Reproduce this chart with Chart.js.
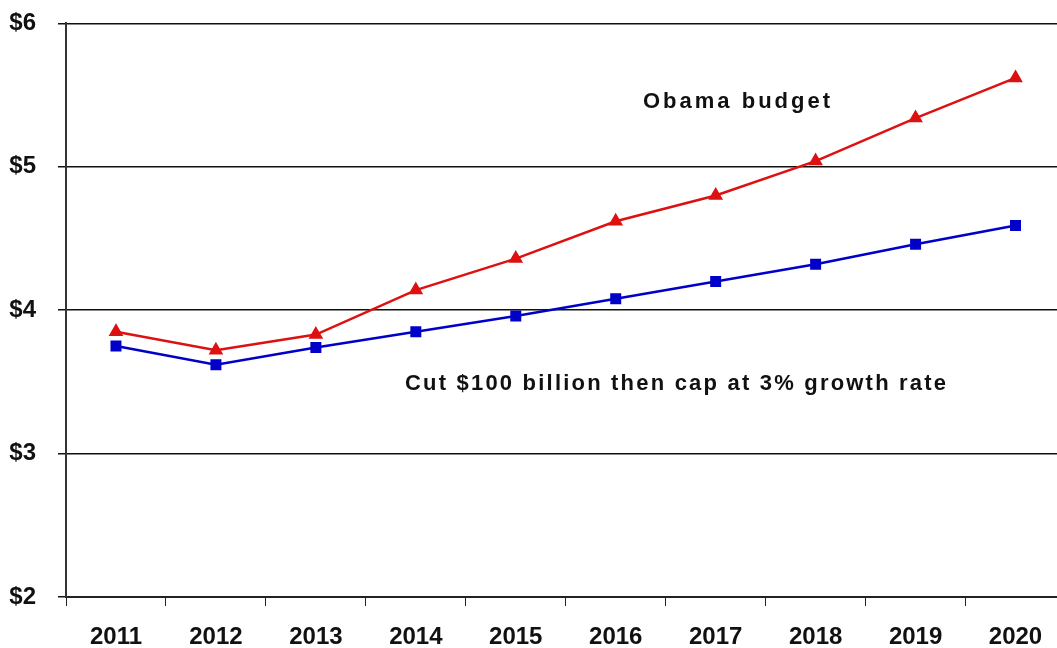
<!DOCTYPE html>
<html lang="en">
<head>
    <meta charset="UTF-8">
    <title>Budget chart</title>
    <script src="https://cdn.jsdelivr.net/npm/chart.js"></script>
    <style>
        html, body {
            margin: 0;
            padding: 0;
            background: #fff;
            overflow: hidden;
        }
        .chart-container {
            width: 1074px;
            height: 661px;
            margin-top: -13px;
        }
    </style>
</head>
<body>
    <div class="chart-container">
        <canvas id="myChart"></canvas>
    </div>

    <script>
        const years = ['2011', '2012', '2013', '2014', '2015', '2016', '2017', '2018', '2019', '2020'];
        const obamaBudget = [3.85, 3.72, 3.83, 4.14, 4.36, 4.62, 4.80, 5.04, 5.34, 5.62];
        const cutAndCap = [3.75, 3.62, 3.74, 3.85, 3.96, 4.08, 4.20, 4.32, 4.46, 4.59];
        const yTicks = [2, 3, 4, 5, 6];

        const tickFont = "'Liberation Sans', Arial, sans-serif";

        // free text labels drawn inside the plot (canvas sits 13px above the page top)
        const labelPlugin = {
            id: 'labels',
            afterDraw(chart) {
                const ctx = chart.ctx;
                ctx.save();
                ctx.fillStyle = '#111';
                ctx.font = "bold 22px 'Liberation Sans', Arial, sans-serif";
                ctx.textBaseline = 'alphabetic';
                ctx.letterSpacing = '3px';
                ctx.fillText('Obama budget', 643, 121);
                ctx.letterSpacing = '2.2px';
                ctx.fillText('Cut $100 billion then cap at 3% growth rate', 405, 403);
                ctx.restore();
            }
        };

        let myChart;

        function initChart() {
            const ctx = document.getElementById('myChart').getContext('2d');
            myChart = new Chart(ctx, {
                type: 'line',
                data: {
                    labels: years,
                    datasets: [{
                        label: 'Obama budget',
                        data: obamaBudget,
                        borderColor: '#dd1111',
                        backgroundColor: '#dd1111',
                        borderWidth: 2.5,
                        pointStyle: 'triangle',
                        pointRadius: 6,
                        pointHoverRadius: 6,
                        tension: 0
                    }, {
                        label: 'Cut $100 billion then cap at 3% growth rate',
                        data: cutAndCap,
                        borderColor: '#0000c8',
                        backgroundColor: '#0000c8',
                        borderWidth: 2.5,
                        pointStyle: 'rect',
                        pointRadius: 6,
                        pointHoverRadius: 6,
                        tension: 0
                    }]
                },
                options: {
                    responsive: true,
                    maintainAspectRatio: false,
                    animation: false,
                    layout: {
                        padding: { top: 10, right: 0, left: 0, bottom: 0 }
                    },
                    scales: {
                        x: {
                            offset: true,
                            afterFit(scale) { scale.height = 51; },
                            grid: {
                                offset: true,
                                drawOnChartArea: false,
                                color: '#222',
                                tickLength: 9
                            },
                            border: { color: '#222', width: 2 },
                            ticks: {
                                color: '#111',
                                padding: 17,
                                maxRotation: 0,
                                font: { family: tickFont, size: 24, weight: 'bold' }
                            }
                        },
                        y: {
                            min: 2,
                            max: 6,
                            afterFit(scale) { scale.width = 66; },
                            afterBuildTicks(scale) {
                                scale.ticks = yTicks.map(v => ({ value: v }));
                            },
                            grid: {
                                color: '#111',
                                lineWidth: 1.5,
                                tickLength: 8
                            },
                            border: { color: '#333', width: 2 },
                            ticks: {
                                color: '#111',
                                padding: 22,
                                callback: v => '$' + v,
                                font: { family: tickFont, size: 24, weight: 'bold' }
                            }
                        }
                    },
                    plugins: {
                        legend: { display: false },
                        tooltip: { enabled: false }
                    }
                },
                plugins: [labelPlugin]
            });
        }

        window.onload = initChart;
    </script>
</body>
</html>
